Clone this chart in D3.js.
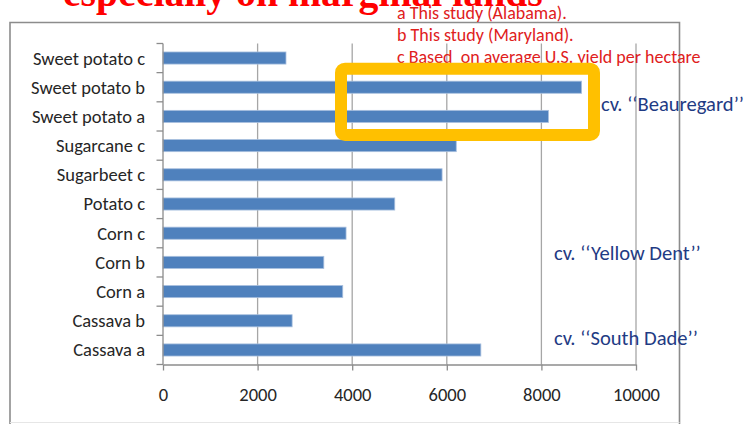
<!DOCTYPE html>
<html>
<head>
<meta charset="utf-8">
<script src="https://cdn.jsdelivr.net/npm/d3@7/dist/d3.min.js"></script>
<style>
  html, body { margin: 0; padding: 0; background: #fff; }
  svg { display: block; }
</style>
</head>
<body>
<svg id="chart" width="746" height="424"></svg>
<script>
// Crop yields (per hectare), bottom-to-top order as listed in the chart
const categories = ["Sweet potato c", "Sweet potato b", "Sweet potato a", "Sugarcane c", "Sugarbeet c",
                    "Potato c", "Corn c", "Corn b", "Corn a", "Cassava b", "Cassava a"];
const yields = [2600, 8850, 8150, 6200, 5900, 4900, 3870, 3400, 3800, 2730, 6720];
const xTicks = [0, 2000, 4000, 6000, 8000, 10000];
const titleText = "especially on marginal lands";
const notes = ["a This study (Alabama).", "b This study (Maryland).", "c Based  on average U.S. yield per hectare"];
const cultivars = ["cv. \u2018\u2018Beauregard\u2019\u2019", "cv. \u2018\u2018Yellow Dent\u2019\u2019", "cv. \u2018\u2018South Dade\u2019\u2019"];
const highlighted = ["Sweet potato b", "Sweet potato a"];

const sansFont = "Carlito, Calibri, 'Open Sans', 'Noto Sans', sans-serif";
const svg = d3.select("#chart");

// scale the font of a text group so that a reference string spans the given width
function fitGroup(sel, refText, targetWidth) {
  let size = null;
  sel.each(function () {
    if (this.textContent === refText) {
      const w = this.getComputedTextLength();
      size = parseFloat(this.getAttribute("font-size")) * targetWidth / w;
    }
  });
  if (size) sel.attr("font-size", size);
}

const x = d3.scaleLinear().domain([0, 10000]).range([163, 636]);
const y = d3.scaleBand().domain(categories).range([43.5, 364.5]).paddingInner(0.585).paddingOuter(0.29);

// chart frame
const frame = svg.append("g");
frame.append("path")
  .attr("d", "M10,424 L10,22.5 L679.5,22.5 L679.5,424")
  .attr("fill", "none").attr("stroke", "#8c8c8c").attr("stroke-width", 1.6);
frame.append("line")
  .attr("x1", 10).attr("x2", 679.5).attr("y1", 422.5).attr("y2", 422.5)
  .attr("stroke", "#e6e6e6").attr("stroke-width", 1);

// vertical gridlines
svg.append("g").selectAll("line")
  .data(xTicks.filter(d => d > 0))
  .join("line")
  .attr("x1", d => x(d)).attr("x2", d => x(d))
  .attr("y1", 43.5).attr("y2", 364.5)
  .attr("stroke", "#a6a6a6").attr("stroke-width", 1.3);

// bars
svg.append("g").selectAll("rect")
  .data(categories.map((c, i) => ({ c, v: yields[i] })))
  .join("rect")
  .attr("x", x(0))
  .attr("y", d => y(d.c))
  .attr("width", d => x(d.v) - x(0))
  .attr("height", y.bandwidth())
  .attr("fill", "#4f81bd")
  .attr("stroke", "#a9c0df").attr("stroke-width", 0.8);

// x axis
const xAxis = svg.append("g")
  .attr("transform", "translate(0,364.5)")
  .call(d3.axisBottom(x).tickValues(xTicks).tickSize(6).tickSizeOuter(0).tickFormat(d3.format("d")));
xAxis.select(".domain").attr("stroke", "#8c8c8c").attr("stroke-width", 1.3);
xAxis.selectAll(".tick line").attr("stroke", "#8c8c8c").attr("stroke-width", 1.3);
const xLabels = xAxis.selectAll(".tick text")
  .attr("y", 30).attr("dy", "0.35em")
  .attr("fill", "#262626").attr("font-family", sansFont).attr("font-size", 16);
fitGroup(xLabels, "10000", 47);

// y axis with ticks at category boundaries
const yAxis = svg.append("g");
yAxis.append("line")
  .attr("x1", x(0)).attr("x2", x(0)).attr("y1", 43.5).attr("y2", 364.5)
  .attr("stroke", "#8c8c8c").attr("stroke-width", 1.3);
const bounds = categories.map(c => y(c) - y.step() * y.paddingInner() / 2).concat([364.5]);
bounds[0] = 43.5;
yAxis.selectAll("line.tick")
  .data(bounds)
  .join("line").attr("class", "tick")
  .attr("x1", x(0) - 6.5).attr("x2", x(0))
  .attr("y1", d => d).attr("y2", d => d)
  .attr("stroke", "#8c8c8c").attr("stroke-width", 1.3);
const yLabels = yAxis.selectAll("text")
  .data(categories)
  .join("text")
  .attr("x", 145)
  .attr("y", d => y(d) + y.bandwidth() / 2)
  .attr("dy", "0.35em")
  .attr("text-anchor", "end")
  .attr("fill", "#262626").attr("font-family", sansFont).attr("font-size", 16)
  .text(d => d);
fitGroup(yLabels, "Sweet potato b", 114);

// footnotes
const noteText = svg.append("g").selectAll("text")
  .data(notes)
  .join("text")
  .attr("x", 397)
  .attr("y", (d, i) => 13 + i * 22)
  .attr("dy", "0.35em")
  .attr("fill", "#e0201c").attr("font-family", sansFont).attr("font-size", 14)
  .style("white-space", "pre")
  .text(d => d);
fitGroup(noteText, notes[0], 170);

// highlight box round the two sweet potato study bars
const hTop = y(highlighted[0]);
const hBot = y(highlighted[1]) + y.bandwidth();
svg.append("rect")
  .attr("x", 341).attr("y", hTop - 12.5)
  .attr("width", 253).attr("height", hBot - hTop + 25)
  .attr("rx", 4).attr("ry", 4)
  .attr("fill", "none").attr("stroke", "#ffc000").attr("stroke-width", 12);

// cultivar annotations
const cvPos = [
  { x: 601, y: (y(categories[1]) + y(categories[2])) / 2 + y.bandwidth() / 2 + 1.5 },
  { x: 554, y: (y(categories[6]) + y(categories[7])) / 2 + y.bandwidth() / 2 + 5 },
  { x: 554, y: (y(categories[9]) + y(categories[10])) / 2 + y.bandwidth() / 2 + 2 }
];
const cvText = svg.append("g").selectAll("text")
  .data(cultivars)
  .join("text")
  .attr("x", (d, i) => cvPos[i].x)
  .attr("y", (d, i) => cvPos[i].y)
  .attr("dy", "0.35em")
  .attr("fill", "#1f3b84").attr("font-family", sansFont).attr("font-size", 16)
  .text(d => d);
fitGroup(cvText, cultivars[0], 143);

// slide heading, partly above the visible area
const title = svg.append("text")
  .attr("x", 63).attr("y", 6)
  .attr("fill", "#ff0000")
  .attr("font-family", "'Liberation Serif', 'Times New Roman', serif")
  .attr("font-weight", "bold").attr("font-size", 40)
  .text(titleText);
fitGroup(title, titleText, 480);
</script>
</body>
</html>
